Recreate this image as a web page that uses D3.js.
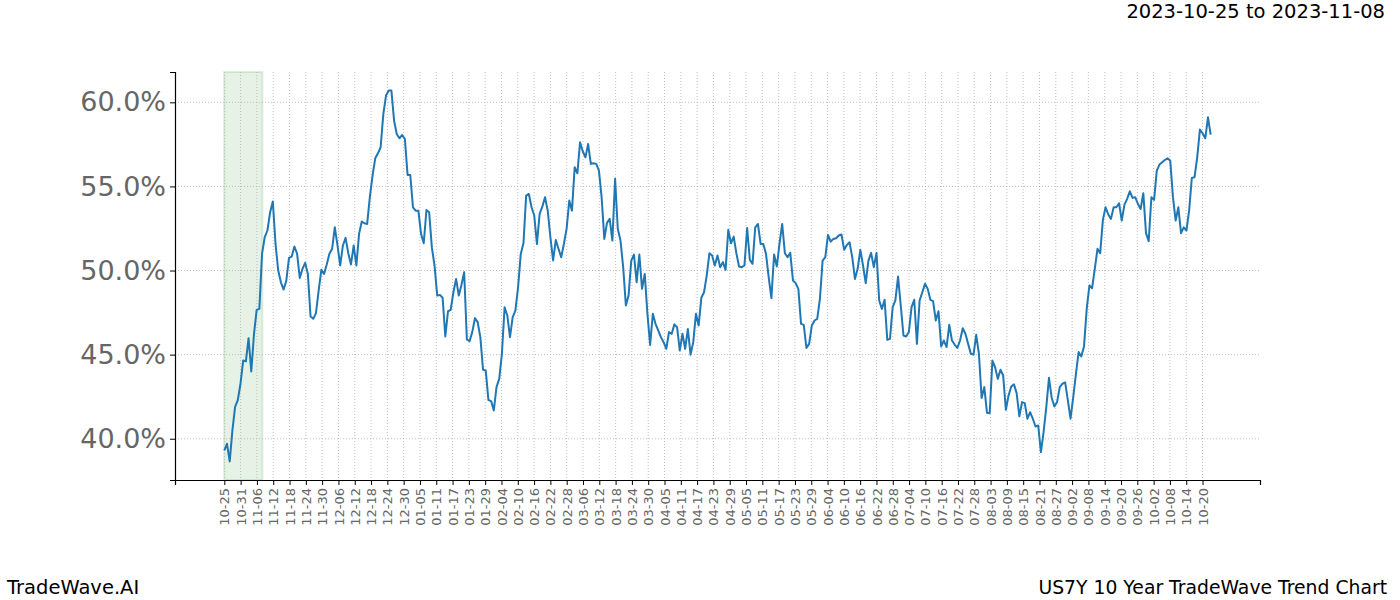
<!DOCTYPE html>
<html>
<head>
<meta charset="utf-8">
<script src="https://cdn.jsdelivr.net/npm/d3@7"></script>
<style>
  body { margin: 0; background: #fff; }
  svg { font-family: "DejaVu Sans", sans-serif; }
</style>
</head>
<body>
<svg id="chart"></svg>
<script>
// trend values (%), one per calendar day from 2023-10-25
const values = [
  39.31, 39.7, 38.65, 40.5, 41.9, 42.3, 43.27, 44.65, 44.6, 45.98, 44.0, 46.2, 47.66, 47.72, 51.0, 51.98, 52.38, 53.47, 54.1, 51.58,
  50.0, 49.3, 48.87, 49.4, 50.75, 50.83, 51.43, 51.0, 49.56, 50.1, 50.46, 49.8, 47.27, 47.13, 47.47, 48.8, 50.04, 49.8, 50.36, 51.0,
  51.29, 52.57, 51.49, 50.3, 51.49, 51.94, 51.03, 50.36, 51.49, 50.3, 52.18, 52.91, 52.81, 52.77, 54.36, 55.64, 56.67, 56.97, 57.33, 59.3,
  60.4, 60.7, 60.7, 58.9, 58.1, 57.86, 58.06, 57.82, 55.68, 55.68, 53.76, 53.56, 53.56, 52.18, 51.62, 53.6, 53.47,
  51.39, 50.3, 48.51, 48.55, 48.38, 46.08, 47.58, 47.66, 48.71, 49.5, 48.51, 49.15, 49.9, 45.9, 45.8, 46.34, 47.17, 46.93, 46.04, 44.1,
  44.06, 42.3, 42.24, 41.68, 43.07, 43.56, 45.05, 47.82, 47.33, 46.04, 47.23, 47.62, 49.0, 50.99, 51.62, 54.46, 54.55, 53.76, 53.27, 51.58,
  53.37, 53.8, 54.36, 53.56, 51.98, 50.6, 51.82, 51.29, 50.79, 51.58, 52.48, 54.16, 53.56, 56.14, 55.78, 57.62, 57.09, 56.73, 57.52, 56.34,
  56.38, 56.34, 55.94, 54.36, 51.88, 52.83, 53.07, 51.78, 55.45, 52.48, 51.78, 50.2, 47.92, 48.51, 50.59, 50.95, 49.31, 50.95, 48.91, 49.8,
  47.43, 45.58, 47.43, 46.83, 46.44, 46.04, 45.74, 45.35, 46.34,
  46.24, 46.8, 46.63, 45.25, 46.24, 45.35, 46.53, 45.0, 45.74, 47.43, 46.73, 48.38, 48.71, 49.7, 51.03, 50.89, 50.3, 50.89, 50.2, 50.5,
  50.04, 52.42, 51.62, 52.02, 51.03, 50.24, 50.2, 50.3, 52.53, 50.63, 50.4, 52.57, 52.77, 51.58, 51.58, 50.99, 49.6, 48.36, 50.95, 50.24,
  51.58, 52.77, 51.03, 50.79, 51.05, 49.41, 49.25, 48.91, 46.83, 46.77, 45.4, 45.64, 46.73, 47.03, 47.13, 48.32, 50.59, 50.79, 52.12, 51.72,
  51.88, 51.92, 52.08, 52.14, 51.23, 51.52, 51.68, 50.79, 49.5, 50.1, 51.23, 50.3, 49.25, 50.59, 51.05, 50.2, 51.05, 48.22, 47.72, 48.26,
  45.88, 45.94, 47.82, 48.22, 49.64, 47.92, 46.14, 46.08, 46.34, 47.82, 48.26, 45.64, 48.22, 48.71, 49.21, 48.91,
  48.26, 48.18, 47.03, 47.58, 45.49, 45.84, 45.45, 46.77, 45.84, 45.6, 45.4, 45.84, 46.57, 46.24, 45.64, 45.05, 45.0, 46.18, 45.05, 42.42,
  43.07, 41.54, 41.52, 44.65, 44.26, 43.56, 44.1, 43.76, 41.72, 42.57, 43.11, 43.23, 42.71, 41.33, 42.18, 42.12, 41.19, 41.58, 41.19, 40.73,
  40.79, 39.21, 40.4, 41.88, 43.62, 42.44, 41.92, 42.18, 43.07, 43.27, 43.35, 42.28, 41.19, 42.48, 43.86, 45.15, 44.89, 45.49, 47.72, 49.11,
  48.95, 50.1, 51.29, 51.03, 53.01, 53.76, 53.33, 53.07, 53.76, 53.76, 54.0, 52.97, 53.92, 54.26, 54.71, 54.32, 54.36, 53.96, 53.66, 54.6,
  52.22, 51.74, 54.36, 54.2, 55.94, 56.3, 56.44, 56.57, 56.67, 56.53, 54.36, 52.97, 53.76, 52.22, 52.57, 52.38, 53.56, 55.5, 55.54, 56.73,
  58.38, 58.16, 57.86, 59.11, 58.08
];

// x tick labels, every 6 days starting at day 0
const tickLabels = [
  "10-25", "10-31", "11-06", "11-12", "11-18", "11-24", "11-30", "12-06", "12-12", "12-18",
  "12-24", "12-30", "01-05", "01-11", "01-17", "01-23", "01-29", "02-04", "02-10", "02-16",
  "02-22", "02-28", "03-06", "03-12", "03-18", "03-24", "03-30", "04-05", "04-11", "04-17",
  "04-23", "04-29", "05-05", "05-11", "05-17", "05-23", "05-29", "06-04", "06-10", "06-16",
  "06-22", "06-28", "07-04", "07-10", "07-16", "07-22", "07-28", "08-03", "08-09", "08-15",
  "08-21", "08-27", "09-02", "09-08", "09-14", "09-20", "09-26", "10-02", "10-08", "10-14",
  "10-20"
];
const tickStep = 6;
const yTicks = [40, 45, 50, 55, 60];
const lastDay = 363;            // day of the final value
const highlight = [0, 14];      // 2023-10-25 to 2023-11-08

const width = 1400, height = 600;
const margin = { top: 72, right: 140, bottom: 120, left: 175 };
const plotW = width - margin.left - margin.right;
const plotH = height - margin.top - margin.bottom;

const svg = d3.select("#chart")
  .attr("width", width)
  .attr("height", height);

const g = svg.append("g")
  .attr("transform", `translate(${margin.left},${margin.top})`);

// matplotlib style 5% padding on both axes
const xPad = lastDay * 0.05;
const x = d3.scaleLinear()
  .domain([-xPad, lastDay + xPad])
  .range([0, plotW]);

const yMin = d3.min(values), yMax = d3.max(values);
const yPad = (yMax - yMin) * 0.05;
const y = d3.scaleLinear()
  .domain([yMin - yPad, yMax + yPad])
  .range([plotH, 0]);

const dayOf = i => i * lastDay / (values.length - 1);
const tickDays = tickLabels.map((d, i) => i * tickStep);

// highlighted window
g.append("rect")
  .attr("x", x(highlight[0]))
  .attr("y", 0)
  .attr("width", x(highlight[1]) - x(highlight[0]))
  .attr("height", plotH)
  .attr("fill", "green")
  .attr("fill-opacity", 0.1)
  .attr("stroke", "green")
  .attr("stroke-opacity", 0.12)
  .attr("stroke-width", 2);

// grid lines (dotted)
g.append("g")
  .selectAll("line")
  .data(tickDays)
  .join("line")
  .attr("x1", d => x(d)).attr("x2", d => x(d))
  .attr("y1", 0).attr("y2", plotH)
  .attr("stroke", "#b0b0b0")
  .attr("stroke-width", 0.8)
  .attr("stroke-dasharray", "1,2");

g.append("g")
  .selectAll("line")
  .data(yTicks)
  .join("line")
  .attr("x1", 0).attr("x2", plotW)
  .attr("y1", d => y(d)).attr("y2", d => y(d))
  .attr("stroke", "#b0b0b0")
  .attr("stroke-width", 0.8)
  .attr("stroke-dasharray", "1,2");

// the trend line
const line = d3.line()
  .x((d, i) => x(dayOf(i)))
  .y(d => y(d));

g.append("path")
  .datum(values)
  .attr("fill", "none")
  .attr("stroke", "#1f77b4")
  .attr("stroke-width", 2)
  .attr("stroke-linejoin", "round")
  .attr("d", line);

// x axis
const xAxis = g.append("g")
  .attr("transform", `translate(0,${plotH})`)
  .call(d3.axisBottom(x)
    .tickValues(tickDays)
    .tickFormat((d, i) => tickLabels[i])
    .tickSizeOuter(0)
    .tickSize(5));

xAxis.select(".domain").attr("stroke", "#000").attr("stroke-width", 1.2);
xAxis.selectAll(".tick line").attr("stroke", "#000");
xAxis.selectAll(".tick text")
  .attr("transform", "rotate(-90)")
  .attr("text-anchor", "end")
  .attr("x", -8)
  .attr("y", 0)
  .attr("dy", "0.35em")
  .attr("fill", "#666")
  .style("font-size", "13px")
  .style("font-family", "DejaVu Sans");

// y axis
const yAxis = g.append("g")
  .call(d3.axisLeft(y)
    .tickValues(yTicks)
    .tickFormat(d => d.toFixed(1) + "%")
    .tickSizeOuter(0)
    .tickSize(5));

yAxis.select(".domain").attr("stroke", "#000").attr("stroke-width", 1.2);
yAxis.selectAll(".tick line").attr("stroke", "#000");
yAxis.selectAll(".tick text")
  .attr("x", -9)
  .attr("fill", "#666")
  .style("font-size", "27px")
  .style("font-family", "DejaVu Sans");

// titles
svg.append("text")
  .attr("x", 1385).attr("y", 18)
  .attr("text-anchor", "end")
  .style("font-size", "19.5px")
  .attr("fill", "#000")
  .text("2023-10-25 to 2023-11-08");

svg.append("text")
  .attr("x", 7).attr("y", 594)
  .style("font-size", "19.5px")
  .attr("fill", "#000")
  .text("TradeWave.AI");

svg.append("text")
  .attr("x", 1387).attr("y", 594)
  .attr("text-anchor", "end")
  .style("font-size", "18.8px")
  .attr("fill", "#000")
  .text("US7Y 10 Year TradeWave Trend Chart");
</script>
</body>
</html>
